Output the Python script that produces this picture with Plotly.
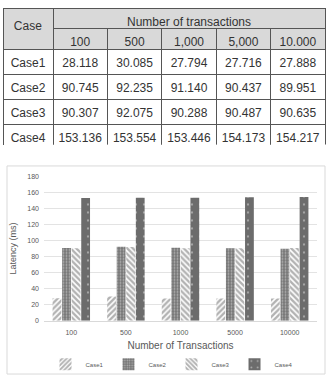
import plotly.graph_objects as go

# ---- data ----
case_names = ["Case1", "Case2", "Case3", "Case4"]
table_tx_labels = ["100", "500", "1,000", "5,000", "10.000"]
tx_categories = ["100", "500", "1000", "5000", "10000"]
case1 = [28.118, 30.085, 27.794, 27.716, 27.888]
case2 = [90.745, 92.235, 91.140, 90.437, 89.951]
case3 = [90.307, 92.075, 90.288, 90.487, 90.635]
case4 = [153.136, 153.554, 153.446, 154.173, 154.217]
series = [case1, case2, case3, case4]
y_ticks = [0, 20, 40, 60, 80, 100, 120, 140, 160, 180]

W, H = 330, 379
def px(x):
    return x / W
def py(y):
    return (H - y) / H

TFAM = "Liberation Sans, Arial, sans-serif"
TFONT = dict(family=TFAM, size=12, color="#333333")
LINE = dict(color="#555555", width=1)
HEAD_FILL = "#d9d9d9"

fig = go.Figure()

# "Case" column (header spans two rows)
fig.add_trace(go.Table(
    domain=dict(x=[px(3), px(53)], y=[py(144), py(5)]),
    header=dict(values=["\u00a0<br><span style='font-size:12px'>Case</span>"], height=41,
                fill_color=HEAD_FILL, line=LINE, align="center",
                font=dict(family=TFAM, size=6, color="#333333")),
    cells=dict(values=[case_names], height=25, fill_color="white", line=LINE,
               align="center", font=TFONT),
))
# "Number of transactions" merged header
fig.add_trace(go.Table(
    domain=dict(x=[px(53), px(325)], y=[py(25), py(5)]),
    header=dict(values=["Number of transactions"], height=20, fill_color=HEAD_FILL,
                line=LINE, align="center", font=TFONT),
    cells=dict(values=[[]], height=0, line=LINE, fill_color=HEAD_FILL),
))
# values block
fig.add_trace(go.Table(
    domain=dict(x=[px(53), px(325)], y=[py(144), py(25)]),
    header=dict(values=table_tx_labels, height=21, fill_color=HEAD_FILL, line=LINE,
                align="center", font=TFONT),
    cells=dict(values=[[f"{s[i]:.3f}" for s in series] for i in range(len(table_tx_labels))],
               height=25, fill_color="white", line=LINE, align="center", font=TFONT),
))

# ---- bar chart ----
styles = [
    dict(color="white", pattern=dict(shape="/", fgcolor="#666666", bgcolor="white", size=4, solidity=0.6)),
    dict(color="#767676", pattern=dict(shape=".", fgcolor="#f0f0f0", bgcolor="#767676", size=3, solidity=0.3)),
    dict(color="white", pattern=dict(shape="\\", fgcolor="#666666", bgcolor="white", size=4, solidity=0.6)),
    dict(color="#6c6c6c", pattern=dict(shape=".", fgcolor="#f5f5f5", bgcolor="#6c6c6c", size=8, solidity=0.06)),
]
for name, vals, st in zip(case_names, series, styles):
    fig.add_trace(go.Bar(x=tx_categories, y=vals, name=name,
                         marker=dict(color=st["color"], pattern=st["pattern"], line=dict(width=0))))

CFONT = "Liberation Sans, Arial, sans-serif"
fig.update_layout(
    width=W, height=H,
    margin=dict(l=0, r=0, t=0, b=0),
    paper_bgcolor="white", plot_bgcolor="white",
    barmode="group", bargap=0.3, bargroupgap=0.08,
    xaxis=dict(domain=[px(44), px(317)], type="category",
               tickfont=dict(family=CFONT, size=7, color="#595959"), ticklabelstandoff=5,
               showline=True, linecolor="#d9d9d9", linewidth=1, ticks="",
               title=dict(text="Number of Transactions", font=dict(family=CFONT, size=10, color="#595959"), standoff=6)),
    yaxis=dict(domain=[py(322.7), py(175.7)], range=[0, 180], tickvals=y_ticks,
               tickfont=dict(family=CFONT, size=7, color="#595959"), ticklabelstandoff=4,
               showgrid=True, gridcolor="#e3e3e3", gridwidth=1, zeroline=False, ticks="",
               title=dict(text="Latency (ms)", font=dict(family=CFONT, size=9, color="#595959"), standoff=9)),
    legend=dict(orientation="h", x=px(172), xanchor="center", y=py(367), yanchor="middle",
                font=dict(family=CFONT, size=6, color="#595959"), itemwidth=30,
                tracegroupgap=0, bgcolor="rgba(0,0,0,0)"),
    shapes=[dict(type="rect", xref="paper", yref="paper", x0=px(7), x1=px(325), y0=py(377), y1=py(165),
                 line=dict(color="#d9d9d9", width=1), fillcolor="rgba(0,0,0,0)", layer="below")],
)

fig.write_html("out.html")
